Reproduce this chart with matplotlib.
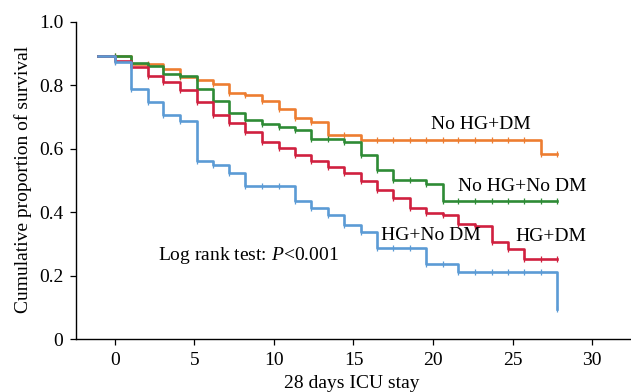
import numpy as np
import matplotlib
matplotlib.use("Agg")
import matplotlib.pyplot as plt

plt.rcParams['font.family'] = ['Liberation Serif', 'DejaVu Serif']
plt.rcParams['mathtext.fontset'] = 'custom'
plt.rcParams['mathtext.rm'] = 'Liberation Serif'
plt.rcParams['mathtext.it'] = 'Liberation Serif:italic'

# step positions along the x axis
days = [-1.05, 0.0, 1.0, 2.05, 3.05, 4.1, 5.15, 6.15, 7.2, 8.2, 9.25, 10.3,
        11.3, 12.35, 13.4, 14.4, 15.45, 16.45, 17.5, 18.55, 19.55, 20.6,
        21.6, 22.65, 23.7, 24.7, 25.75, 26.8, 27.8]

# survival level holding from each step position
no_hg_dm = [0.892, 0.892, 0.866, 0.866, 0.853, 0.827, 0.818, 0.805, 0.776,
            0.769, 0.750, 0.727, 0.697, 0.683, 0.645, 0.645, 0.629, 0.629,
            0.629, 0.629, 0.629, 0.629, 0.629, 0.629, 0.629, 0.629, 0.629,
            0.585, 0.585]
no_hg_no_dm = [0.892, 0.892, 0.871, 0.862, 0.837, 0.829, 0.789, 0.750,
               0.713, 0.692, 0.678, 0.668, 0.658, 0.631, 0.631, 0.620,
               0.581, 0.532, 0.502, 0.502, 0.490, 0.436, 0.436, 0.436,
               0.436, 0.436, 0.436, 0.436, 0.436]
hg_dm = [0.892, 0.878, 0.857, 0.831, 0.810, 0.787, 0.748, 0.708, 0.681,
         0.653, 0.623, 0.602, 0.580, 0.560, 0.544, 0.524, 0.497, 0.470,
         0.444, 0.413, 0.397, 0.391, 0.362, 0.355, 0.307, 0.284, 0.251,
         0.251, 0.251]
hg_no_dm = [0.892, 0.873, 0.789, 0.748, 0.708, 0.687, 0.563, 0.548, 0.525,
            0.483, 0.483, 0.483, 0.434, 0.413, 0.391, 0.360, 0.337, 0.287,
            0.287, 0.287, 0.237, 0.237, 0.210, 0.210, 0.210, 0.210, 0.210,
            0.210, 0.094]

groups = [
    ("No HG+DM", no_hg_dm, "#ED7D31", (19.9, 0.676)),
    ("No HG+No DM", no_hg_no_dm, "#2E8B35", (21.55, 0.481)),
    ("HG+DM", hg_dm, "#D0203F", (25.15, 0.323)),
    ("HG+No DM", hg_no_dm, "#5B9BD5", (16.7, 0.325)),
]

fig = plt.figure(figsize=(6.31, 3.92), dpi=100)
ax = fig.add_axes([0.1204, 0.1352, 0.8796, 0.8087])

for name, surv, col, pos in groups:
    ax.step(days, surv, where="post", color=col, lw=1.9, zorder=3)
    # censor marks
    ax.plot(days[1:], surv[1:], ls="none", marker="|", ms=4, mew=0.9,
            color=col, zorder=3)
    ax.text(pos[0], pos[1], name, fontsize=14, va="center", ha="left",
            zorder=4)

ax.text(2.72, 0.263, "Log rank test: $\\mathit{P}$<0.001", fontsize=14,
        va="center", ha="left")

ax.set_xlim(-2.45, 32.45)
ax.set_ylim(0, 1.0)
ax.set_xticks([0, 5, 10, 15, 20, 25, 30])
ax.set_yticks([0, 0.2, 0.4, 0.6, 0.8, 1.0])
ax.set_yticklabels(["0", "0.2", "0.4", "0.6", "0.8", "1.0"])
ax.tick_params(labelsize=14, length=4, width=0.9, pad=5, direction="out")

for s in ["top", "right"]:
    ax.spines[s].set_visible(False)
for s in ["left", "bottom"]:
    ax.spines[s].set_linewidth(1.0)

ax.set_xlabel("28 days ICU stay", fontsize=14)
ax.set_ylabel("Cumulative proportion of survival", fontsize=14)
ax.xaxis.set_label_coords(0.497, -0.112)
ax.yaxis.set_label_coords(-0.079, 0.503)

fig.savefig("out.png", dpi=100)
